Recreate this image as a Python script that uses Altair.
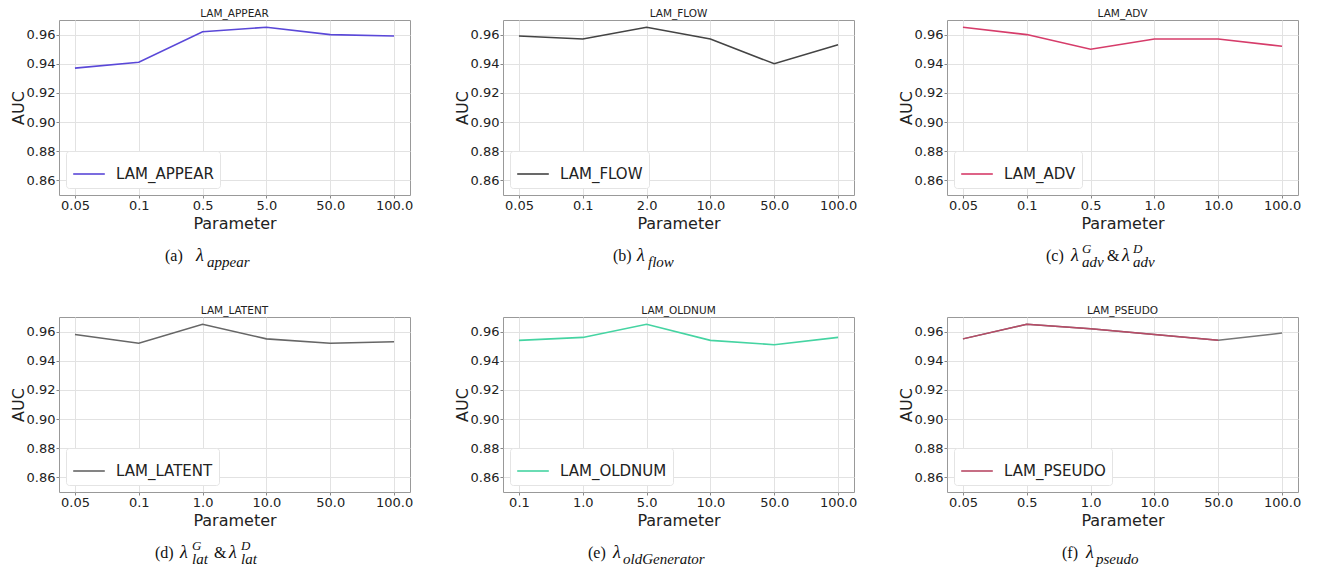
import altair as alt
import pandas as pd

# ---- data ----
names = ["LAM_APPEAR", "LAM_FLOW", "LAM_ADV", "LAM_LATENT", "LAM_OLDNUM", "LAM_PSEUDO"]
params_a = ["0.05", "0.1", "0.5", "5.0", "50.0", "100.0"]
params_b = ["0.05", "0.1", "2.0", "10.0", "50.0", "100.0"]
params_c = ["0.05", "0.1", "0.5", "1.0", "10.0", "100.0"]
params_d = ["0.05", "0.1", "1.0", "10.0", "50.0", "100.0"]
params_e = ["0.1", "1.0", "5.0", "10.0", "50.0", "100.0"]
params_f = ["0.05", "0.5", "1.0", "10.0", "50.0", "100.0"]
auc_a = [0.937, 0.941, 0.962, 0.965, 0.960, 0.959]
auc_b = [0.959, 0.957, 0.965, 0.957, 0.940, 0.953]
auc_c = [0.965, 0.960, 0.950, 0.957, 0.957, 0.952]
auc_d = [0.958, 0.952, 0.965, 0.955, 0.952, 0.953]
auc_e = [0.954, 0.956, 0.965, 0.954, 0.951, 0.956]
auc_f = [0.955, 0.965, 0.962, 0.958, 0.954, 0.959]
y_ticks = [0.86, 0.88, 0.90, 0.92, 0.94, 0.96]

# caption pieces: (text, role) role: main / greek / sub / sup
captions = [
    [("(a)", "main"), ("λ", "greek"), ("appear", "sub")],
    [("(b)", "main"), ("λ", "greek"), ("flow", "sub")],
    [("(c)", "main"), ("λ", "greek"), ("G", "sup"), ("adv", "sub"), ("&", "main"), ("λ", "greek"), ("D", "sup"), ("adv", "sub")],
    [("(d)", "main"), ("λ", "greek"), ("G", "sup"), ("lat", "sub"), ("&", "main"), ("λ", "greek"), ("D", "sup"), ("lat", "sub")],
    [("(e)", "main"), ("λ", "greek"), ("oldGenerator", "sub")],
    [("(f)", "main"), ("λ", "greek"), ("pseudo", "sub")],
]

# ---- styling / layout ----
colors = ["#5a48d8", "#444444", "#d63c6a", "#666666", "#45d4a2", "#b84a66"]
caption_x = [
    [106, 137, 148],
    [110, 134, 145],
    [99, 124, 135, 135, 160, 175, 186, 186],
    [96, 121, 133, 133, 155, 170, 182, 182],
    [85, 110, 120],
    [115, 139, 149],
]
W, H = 351, 175
BASE = 241
role_style = {
    "main": dict(fontSize=16, fontStyle="normal", dy=0),
    "greek": dict(fontSize=18, fontStyle="italic", dy=0),
    "sub": dict(fontSize=15, fontStyle="italic", dy=6),
    "sup": dict(fontSize=13, fontStyle="italic", dy=-8),
}

params = [params_a, params_b, params_c, params_d, params_e, params_f]
aucs = [auc_a, auc_b, auc_c, auc_d, auc_e, auc_f]


def panel(i):
    df = pd.DataFrame({
        "Parameter": params[i],
        "AUC": aucs[i],
        "series": names[i],
        "idx": list(range(len(params[i]))),
    })
    x = alt.X("Parameter:N", sort=params[i],
              scale=alt.Scale(type="point", padding=0.25),
              axis=alt.Axis(title="Parameter", labelAngle=0))
    y = alt.Y("AUC:Q", scale=alt.Scale(domain=[0.85, 0.97], nice=False, zero=False),
              axis=alt.Axis(title="AUC", values=y_ticks, format=".2f"))
    color = alt.Color("series:N", scale=alt.Scale(domain=[names[i]], range=[colors[i]]),
                      legend=alt.Legend(title=None, orient="bottom-left", offset=7,
                                        symbolType="stroke", symbolSize=1000,
                                        symbolStrokeWidth=1.6, labelFontSize=15,
                                        labelFont="DejaVu Sans", labelColor="#222",
                                        labelOffset=10, padding=6,
                                        strokeColor="#e4e4e4", fillColor="white",
                                        cornerRadius=3))
    base = alt.Chart(df)
    layers = []
    if i == 5:
        layers.append(base.mark_line(strokeWidth=1.5, color="#777777").encode(
            x=x, y=y, order="idx:Q"))
        line = base.transform_filter("datum.idx <= 4").mark_line(strokeWidth=1.5).encode(
            x=x, y=y, color=color, order="idx:Q")
    else:
        line = base.mark_line(strokeWidth=1.6).encode(x=x, y=y, color=color, order="idx:Q")
    layers.append(line)
    for (txt, role), px in zip(captions[i], caption_x[i]):
        st = role_style[role]
        layers.append(
            alt.Chart(pd.DataFrame({"t": [txt]})).mark_text(
                font="Liberation Serif", fontSize=st["fontSize"], fontStyle=st["fontStyle"],
                align="left", baseline="alphabetic", color="#111"
            ).encode(text="t:N", x=alt.value(px), y=alt.value(BASE + st["dy"]))
        )
    return alt.layer(*layers).properties(
        width=W, height=H,
        title=alt.Title(names[i], fontSize=10.5, fontWeight="normal",
                        font="DejaVu Sans", color="#222", offset=1),
    )


row1 = alt.hconcat(panel(0), panel(1), panel(2), spacing=39).resolve_scale(color="independent").resolve_legend(color="independent")
row2 = alt.hconcat(panel(3), panel(4), panel(5), spacing=39).resolve_scale(color="independent").resolve_legend(color="independent")
chart = alt.vconcat(row1, row2, spacing=34).resolve_scale(color="independent").resolve_legend(
    color="independent"
).properties(padding={"left": 1, "top": 0, "right": 0, "bottom": 0}).configure_view(
    stroke="#999999", strokeWidth=1
).configure_axis(
    labelFont="DejaVu Sans", labelFontSize=13, labelColor="#222",
    titleFont="DejaVu Sans", titleFontSize=16, titleFontWeight="normal", titleColor="#222",
    grid=True, gridColor="#e2e2e2", gridWidth=1,
    domain=False, tickColor="#888", tickSize=3, labelPadding=1,
).configure_axisY(titlePadding=0).configure_axisX(titlePadding=3)

chart.save("out.html", embed_options={"renderer": "svg", "actions": False})
